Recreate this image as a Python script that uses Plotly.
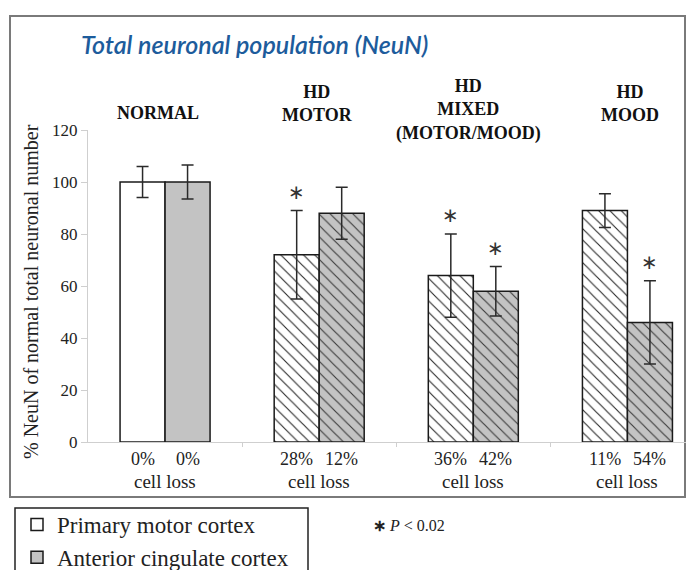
import plotly.graph_objects as go

# --- data -------------------------------------------------------------
group_index = [0, 1, 2, 3]
header_lines = [["NORMAL"], ["HD", "MOTOR"], ["HD", "MIXED", "(MOTOR/MOOD)"], ["HD", "MOOD"]]
motor_loss = [0, 28, 36, 11]          # % cell loss, primary motor cortex
cingulate_loss = [0, 12, 42, 54]      # % cell loss, anterior cingulate cortex
motor_err = [6, 17, 16, 6.5]
cingulate_err = [6.5, 10, 9.5, 16]
motor_sig = [False, True, True, False]
cingulate_sig = [False, False, True, True]
y_ticks = [0, 20, 40, 60, 80, 100, 120]

motor_vals = [100 - v for v in motor_loss]
cingulate_vals = [100 - v for v in cingulate_loss]

# --- layout helpers ---------------------------------------------------
W, H = 690, 570
L, R, T, B = 88, 4, 130, 128
PW, PH = W - L - R, H - T - B


def px(x):
    return (x - L) / PW


def py(y):
    return (H - B - y) / PH


SERIF = "Liberation Serif, Times New Roman, serif"
GRAY = "#c3c3c3"
hatch = ["" if i == 0 else "\\" for i in group_index]

fig = go.Figure()
fig.add_trace(go.Bar(
    x=group_index, y=motor_vals, name="Primary motor cortex",
    marker=dict(color="white", line=dict(color="#1a1a1a", width=1.5),
                pattern=dict(shape=hatch, fgcolor="#2a2a2a", bgcolor="white",
                             size=8, solidity=0.14, fillmode="replace")),
    error_y=dict(type="data", array=motor_err, color="#2a2a2a", thickness=1.5, width=6),
))
fig.add_trace(go.Bar(
    x=group_index, y=cingulate_vals, name="Anterior cingulate cortex",
    marker=dict(color=GRAY, line=dict(color="#1a1a1a", width=1.5),
                pattern=dict(shape=hatch, fgcolor="#3a3a3a", bgcolor=GRAY,
                             size=8, solidity=0.14, fillmode="replace")),
    error_y=dict(type="data", array=cingulate_err, color="#2a2a2a", thickness=1.5, width=6),
))

OFF = 0.146  # half of one bar's width in category units
ann = []
for i in group_index:
    # significance stars
    for sig, val, err, dx in ((motor_sig[i], motor_vals[i], motor_err[i], -OFF),
                              (cingulate_sig[i], cingulate_vals[i], cingulate_err[i], OFF)):
        if sig:
            ann.append(dict(x=i + dx, y=val + err, xref="x", yref="y", text="∗",
                            showarrow=False, yshift=19, yanchor="middle",
                            font=dict(family="DejaVu Sans", size=20, color="#333")))
    # cell loss labels
    ann.append(dict(x=i - OFF, y=0, xref="x", yref="y", text=f"{motor_loss[i]}%",
                    showarrow=False, yshift=-17, yanchor="middle",
                    font=dict(family=SERIF, size=18, color="#222")))
    ann.append(dict(x=i + OFF, y=0, xref="x", yref="y", text=f"{cingulate_loss[i]}%",
                    showarrow=False, yshift=-17, yanchor="middle",
                    font=dict(family=SERIF, size=18, color="#222")))
    ann.append(dict(x=i, y=0, xref="x", yref="y", text="cell loss",
                    showarrow=False, yshift=-39.5, yanchor="middle",
                    font=dict(family=SERIF, size=19, color="#222")))

# group headers
header_shift = [-7, -2, -5, 3]
header_mid = [113, 103, 110, 103]
for i, lines in enumerate(header_lines):
    ann.append(dict(x=i, y=py(header_mid[i]), xref="x", yref="paper",
                    text="<br>".join(f"<b>{s}</b>" for s in lines),
                    showarrow=False, xshift=header_shift[i], yanchor="middle",
                    font=dict(family=SERIF, size=18, color="#111")))

# title
ann.append(dict(x=px(79), y=py(44), xref="paper", yref="paper",
                text="<i>Total neuronal population (NeuN)</i>", showarrow=False,
                xanchor="left", yanchor="middle",
                font=dict(family="Lato", size=25, color="#1d5c9c", weight=600)))

# y-axis title
ann.append(dict(x=px(31), y=py(292), xref="paper", yref="paper", textangle=-90,
                text="% NeuN of normal total neuronal number", showarrow=False,
                xanchor="center", yanchor="middle",
                font=dict(family=SERIF, size=20, color="#222")))

# significance key
ann.append(dict(x=px(371), y=py(525), xref="paper", yref="paper",
                text="<b>∗</b> <i>P</i> < 0.02", showarrow=False,
                xanchor="left", yanchor="middle",
                font=dict(family=SERIF, size=16, color="#222")))

fig.update_layout(
    width=W, height=H,
    margin=dict(l=L, r=R, t=T, b=B, autoexpand=False),
    paper_bgcolor="white", plot_bgcolor="white",
    barmode="group", bargap=0.416, bargroupgap=0,
    showlegend=True,
    legend=dict(x=px(17), y=py(503), xanchor="left", yanchor="top",
                bgcolor="rgba(0,0,0,0)", borderwidth=0,
                font=dict(family=SERIF, size=23, color="#222"),
                traceorder="normal"),
    annotations=ann,
    shapes=[
        dict(type="rect", xref="paper", yref="paper",
             x0=px(10), x1=px(685), y0=py(497), y1=py(16),
             line=dict(color="#7a7a7a", width=2), layer="below"),
        # legend frame
        dict(type="rect", xref="paper", yref="paper",
             x0=px(15), x1=px(308), y0=py(585), y1=py(508),
             line=dict(color="#222", width=1.5), layer="below"),
    ],
    xaxis=dict(range=[-0.5, 3.38], showgrid=False, zeroline=False,
               showline=True, linecolor="#cfcfcf", linewidth=1,
               tickvals=[0.5, 1.5, 2.5], ticks="outside", ticklen=4,
               tickcolor="#cfcfcf", showticklabels=False),
    yaxis=dict(range=[0, 120], tickvals=y_ticks, showgrid=False, zeroline=False,
               showline=True, linecolor="#cfcfcf", linewidth=1,
               ticks="outside", ticklen=6, tickcolor="#cfcfcf",
               tickfont=dict(family=SERIF, size=17, color="#222")),
)

fig.write_html("out.html")
